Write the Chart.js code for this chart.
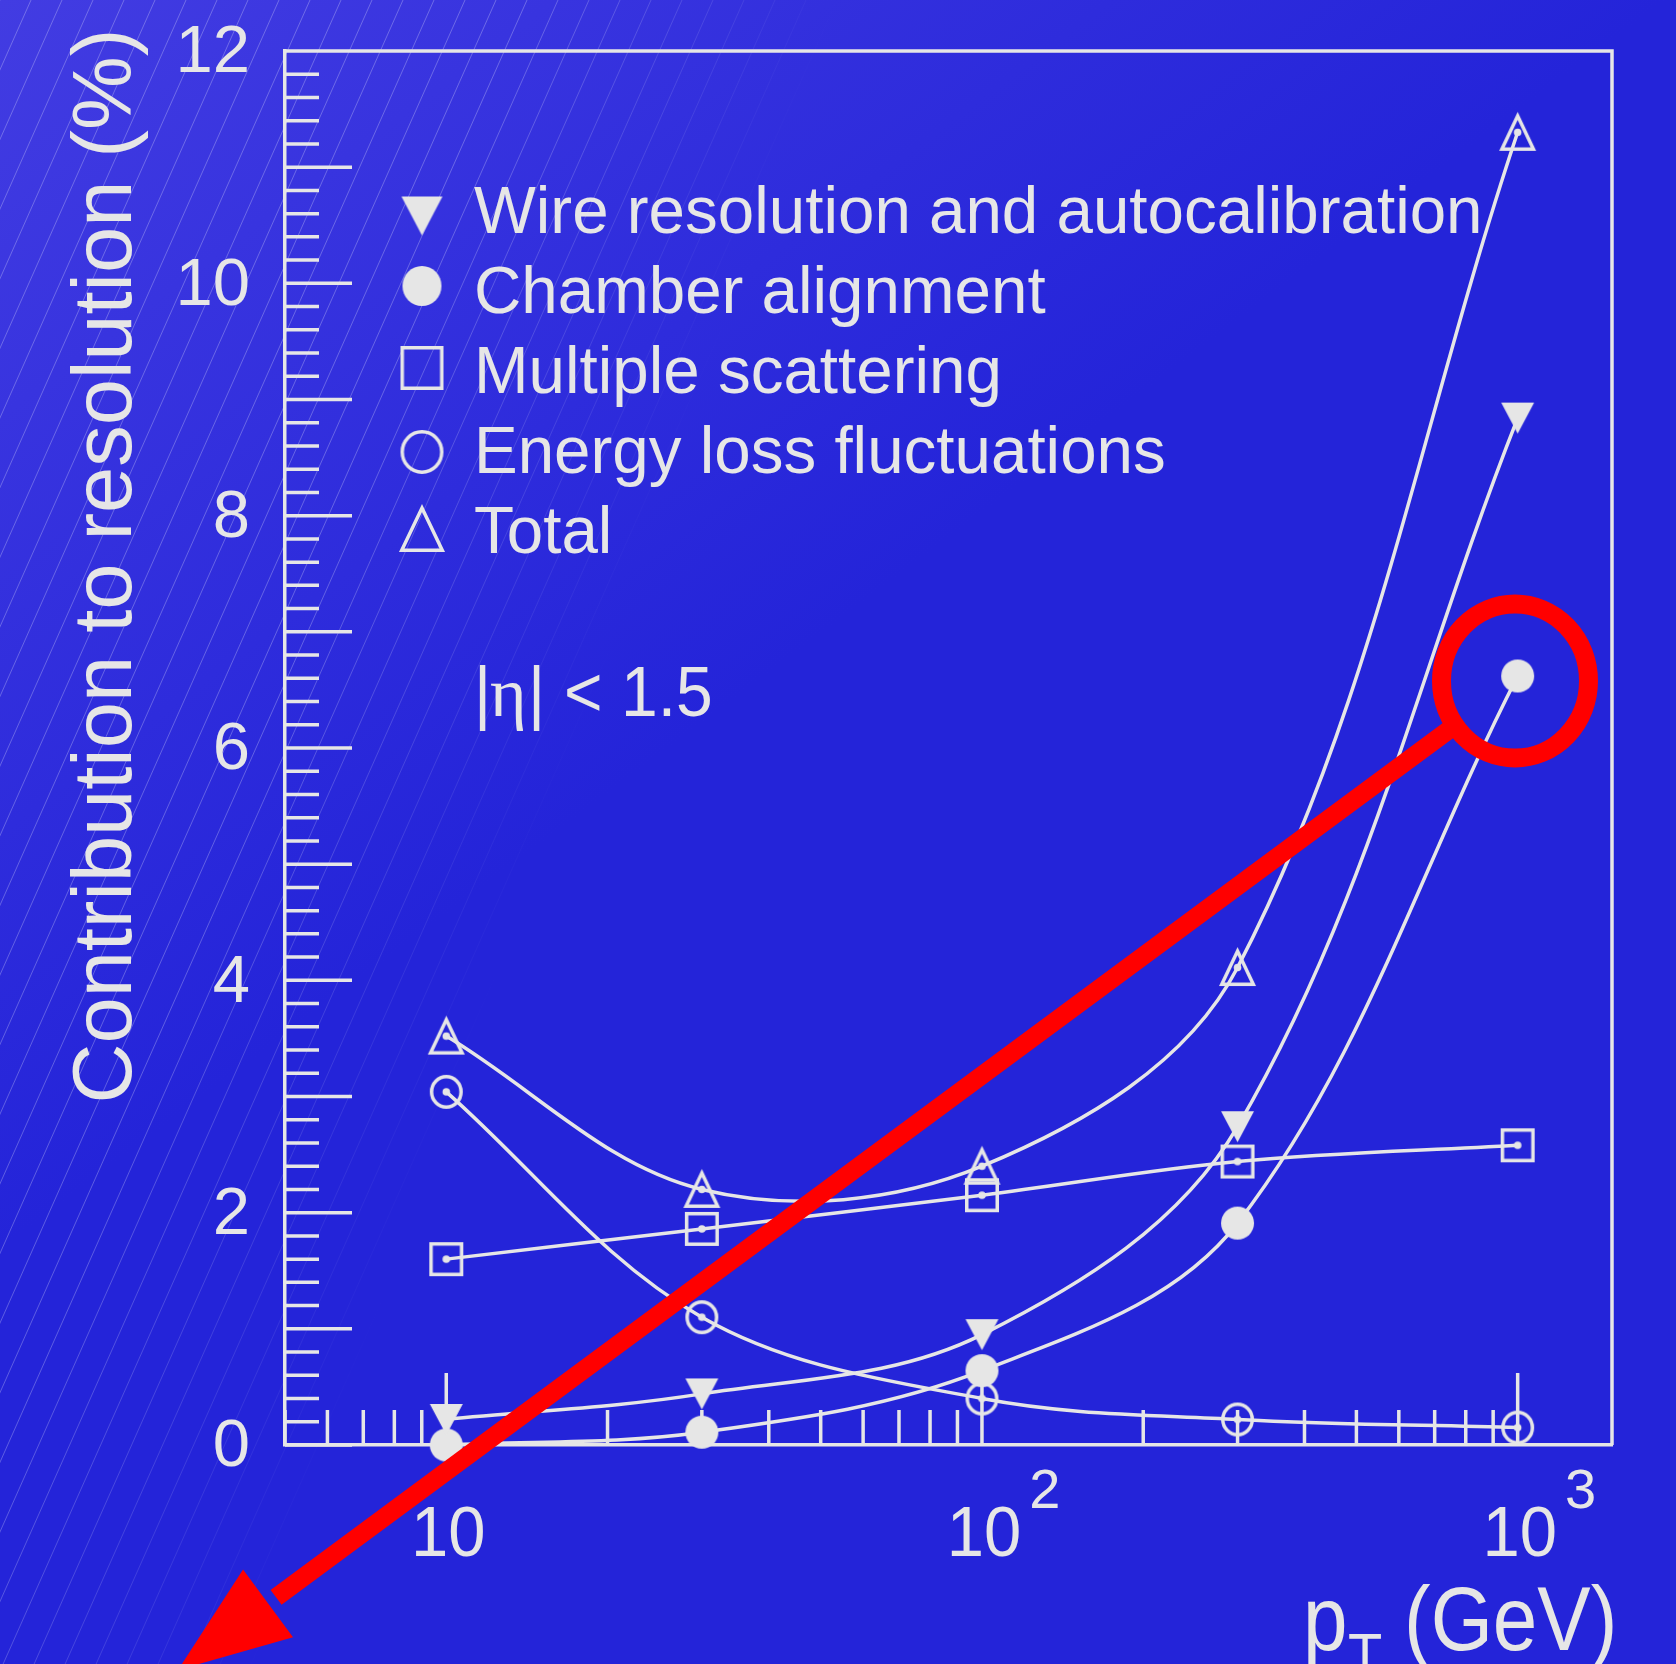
<!DOCTYPE html>
<html>
<head>
<meta charset="utf-8">
<title>Contribution to resolution</title>
<script src="https://cdn.jsdelivr.net/npm/chart.js@4.4.1/dist/chart.umd.min.js"></script>
<style>
html,body{margin:0;padding:0;background:#2424d9;overflow:hidden;}
canvas{display:block;}
</style>
</head>
<body>
<canvas id="resChart" width="1676" height="1664"></canvas>
<script>
// values (pT in GeV, contribution in %)
const ptValues = [10, 30, 100, 300, 1000];
const wireRes = [0.22, 0.44, 0.95, 2.74, 8.84];
const chamberAlign = [0.0, 0.11, 0.64, 1.91, 6.62];
const multScatter = [1.60, 1.86, 2.15, 2.44, 2.58];
const energyLoss = [3.04, 1.10, 0.40, 0.22, 0.15];
const totalRes = [3.52, 2.20, 2.40, 4.11, 11.30];

const seriesLabels = [
"Wire resolution and autocalibration",
"Chamber alignment",
"Multiple scattering",
"Energy loss fluctuations",
"Total"
];
const xDecades = [10, 100, 1000];
const xExponents = ["", "2", "3"];
const yTitle = "Contribution to resolution (%)";

const INK = "#e6e6e6";
const LW = 3.5;
const SANS = "'Liberation Sans', Arial, Helvetica, sans-serif";
const SERIF = "'Liberation Serif', 'DejaVu Serif', serif";

// marker glyphs drawn once into small canvases
function marker(kind, w, h, withDot){
const c = document.createElement("canvas");
c.width = Math.ceil(w) + 8;
c.height = Math.ceil(h) + 8;
const g = c.getContext("2d");
const cx = c.width / 2, cy = c.height / 2;
const hl = LW / 2;
g.fillStyle = INK;
g.strokeStyle = INK;
g.lineWidth = LW;
g.beginPath();
if(kind == "triDown"){
g.moveTo(cx - w/2, cy - h/2);
g.lineTo(cx + w/2, cy - h/2);
g.lineTo(cx, cy + h/2);
g.closePath();
g.fill();
}
else if(kind == "dot"){
g.ellipse(cx, cy, w/2, h/2, 0, 0, Math.PI*2);
g.fill();
}
else if(kind == "square"){
g.rect(cx - w/2 + hl, cy - h/2 + hl, w - LW, h - LW);
g.stroke();
}
else if(kind == "ring"){
g.ellipse(cx, cy, w/2 - hl, h/2 - hl, 0, 0, Math.PI*2);
g.stroke();
}
else if(kind == "triUp"){
g.moveTo(cx, cy - h/2 + 2);
g.lineTo(cx + w/2 - hl, cy + h/2 - hl);
g.lineTo(cx - w/2 + hl, cy + h/2 - hl);
g.closePath();
g.stroke();
}
if(withDot){
g.beginPath();
g.arc(cx, cy, 3.8, 0, Math.PI*2);
g.fill();
}
return c;
}

const pointImg = [
marker("triDown", 33, 31, false),
marker("dot", 33, 33, false),
marker("square", 34, 34, true),
marker("ring", 33, 34, true),
marker("triUp", 35, 37, true)
];
const legendImg = [
marker("triDown", 41, 39, false),
marker("dot", 39, 40, false),
marker("square", 43, 44, false),
marker("ring", 43, 44, false),
marker("triUp", 44, 46, false)
];
const legendDy = [-17, -27, -25, -21, -24];

function pts(arr){
return ptValues.map((x, i) => ({x: x, y: arr[i]}));
}

function series(i, arr){
return {
label: seriesLabels[i],
data: pts(arr),
borderColor: INK,
borderWidth: LW,
tension: 0.35,
pointStyle: pointImg[i],
pointRadius: 16,
clip: false,
fill: false
};
}

function drawText(ctx, s, x, y, size, family, sy, align){
ctx.save();
ctx.translate(x, y);
ctx.scale(1, sy || 1);
ctx.font = size + "px " + (family || SANS);
ctx.textAlign = align || "left";
ctx.textBaseline = "alphabetic";
ctx.fillStyle = INK;
ctx.fillText(s, 0, 0);
ctx.restore();
}

const background = {
id: "background",
beforeDraw(c){
const ctx = c.ctx, W = c.width, H = c.height;
ctx.save();
const g = ctx.createLinearGradient(0, 0, 600, 800);
g.addColorStop(0, "rgb(66,60,226)");
g.addColorStop(1, "rgb(36,36,217)");
ctx.fillStyle = g;
ctx.fillRect(0, 0, W, H);
// faint hatching in the upper left
const h = ctx.createLinearGradient(560, 800, 277, 701);
h.addColorStop(0, "rgba(255,255,255,0)");
h.addColorStop(1, "rgba(255,255,255,0.26)");
ctx.strokeStyle = h;
ctx.lineWidth = 1;
ctx.beginPath();
const k = 1 / Math.tan(66 * Math.PI / 180);
for(let x0 = -H*k; x0 < 1000; x0 += 31){
ctx.moveTo(x0, H);
ctx.lineTo(x0 + H*k, 0);
}
ctx.stroke();
ctx.restore();
}
};

const frame = {
id: "frame",
beforeDatasetsDraw(c){
const ctx = c.ctx, a = c.chartArea;
const xs = c.scales.x, ys = c.scales.y;
ctx.save();
ctx.strokeStyle = INK;
ctx.lineWidth = LW;
ctx.beginPath();
ctx.moveTo(a.left, a.top);
ctx.lineTo(a.right, a.top);
ctx.lineTo(a.right, a.bottom);
// y ticks, every 0.2, long ones on integers
for(let i = 0; i <= 60; i++){
const y = ys.getPixelForValue(i / 5);
const len = i % 5 == 0 ? 67 : 34;
ctx.moveTo(a.left, y);
ctx.lineTo(a.left + len, y);
}
// x ticks on the log axis
[1, 10, 100, 1000].forEach(d => {
for(let m = 1; m <= 9; m++){
const v = m * d;
if(v < xs.min || v > xs.max) continue;
const x = xs.getPixelForValue(v);
const len = m == 1 ? 72 : 35;
ctx.moveTo(x, a.bottom);
ctx.lineTo(x, a.bottom - len);
}
});
ctx.stroke();
ctx.restore();
},
afterDraw(c){
const ctx = c.ctx;
const xs = c.scales.x;

// x tick labels with exponents
xDecades.forEach((v, i) => {
const x = xs.getPixelForValue(v) + 2;
drawText(ctx, "10", x, 1556, 67, SANS, 1.04, "center");
if(xExponents[i]){
ctx.font = "67px " + SANS;
const w = ctx.measureText("10").width;
drawText(ctx, xExponents[i], x + w/2 + 8, 1508, 56, SANS, 1.0, "left");
}
});

// axis titles
ctx.save();
ctx.translate(131, 566);
ctx.rotate(-Math.PI / 2);
drawText(ctx, yTitle, 0, 0, 83, SANS, 1, "center");
ctx.restore();

drawText(ctx, "p", 1303, 1650, 80, SANS, 1.14);
drawText(ctx, "T", 1348, 1677, 56, SANS, 1.14);
drawText(ctx, "(GeV)", 1404, 1650, 80, SANS, 1.14);

// legend
c.data.datasets.forEach((ds, i) => {
const base = 233 + 80 * i;
const img = legendImg[i];
ctx.drawImage(img, 422 - img.width/2, base + legendDy[i] - img.height/2);
drawText(ctx, ds.label, 474, base, 65.5, SANS, 1.03);
});

// |eta| < 1.5
drawText(ctx, "|", 474, 716, 66, SANS, 1.06);
drawText(ctx, "\u03b7", 490, 716, 70, SERIF, 1.0);
drawText(ctx, "|", 528, 716, 66, SANS, 1.06);
drawText(ctx, "<", 564, 716, 66, SANS, 1.06);
drawText(ctx, "1.5", 621, 716, 66, SANS, 1.06);

// red highlight and arrow
ctx.save();
ctx.strokeStyle = "#ff0000";
ctx.fillStyle = "#ff0000";
ctx.lineWidth = 19;
ctx.beginPath();
ctx.ellipse(1515, 681, 73.5, 77, 0, 0, Math.PI*2);
ctx.stroke();
const tip = {x: 178, y: 1670};
const ux = -0.804, uy = 0.595;
const bx = tip.x - 112 * ux, by = tip.y - 112 * uy;
ctx.lineWidth = 18.5;
ctx.beginPath();
ctx.moveTo(1515 + 75 * ux, 681 + 75 * uy);
ctx.lineTo(bx - 10 * ux, by - 10 * uy);
ctx.stroke();
ctx.beginPath();
ctx.moveTo(tip.x, tip.y);
ctx.lineTo(bx + 42 * uy, by - 42 * ux);
ctx.lineTo(bx - 42 * uy, by + 42 * ux);
ctx.closePath();
ctx.fill();
ctx.restore();
}
};

const resChart = new Chart(
document.getElementById("resChart"),
{
type: "line",
data: {
datasets: [
series(0, wireRes),
series(1, chamberAlign),
series(2, multScatter),
series(3, energyLoss),
series(4, totalRes)
]
},
options: {
responsive: false,
animation: false,
events: [],
layout: {padding: {top: 51, right: 64, left: 0, bottom: 0}},
scales: {
x: {
type: "logarithmic",
min: 5,
max: 1500,
grid: {display: false, drawTicks: false},
border: {display: true, color: INK, width: LW},
ticks: {display: false},
afterFit(s){
s.height = 219;
s.paddingLeft = 0;
s.paddingRight = 0;
}
},
y: {
min: 0,
max: 12,
grid: {display: false, drawTicks: false},
border: {display: true, color: INK, width: LW},
ticks: {
stepSize: 2,
color: INK,
padding: 35,
labelOffset: 3,
font: {family: SANS, size: 67}
},
afterFit(s){
s.width = 285;
s.paddingTop = 0;
s.paddingBottom = 0;
}
}
},
plugins: {
legend: {display: false},
tooltip: {enabled: false}
}
},
plugins: [background, frame]
}
);
</script>
</body>
</html>
